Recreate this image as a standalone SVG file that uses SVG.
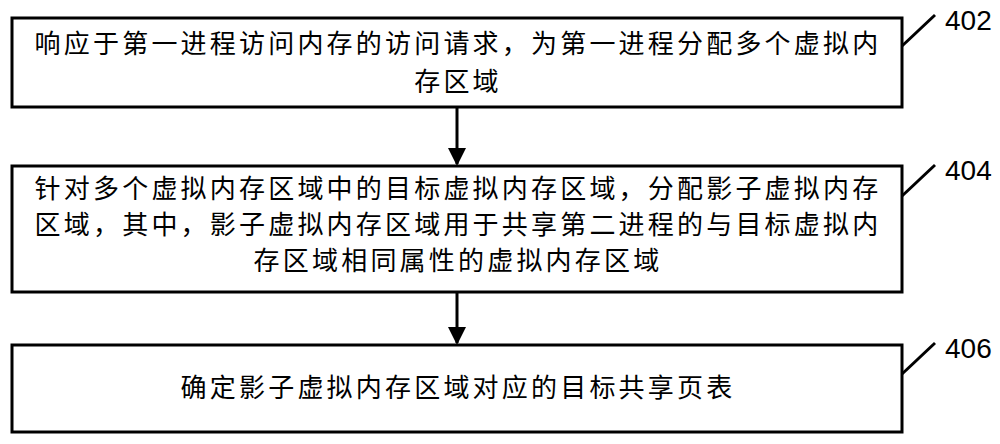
<svg xmlns="http://www.w3.org/2000/svg" width="1000" height="444" viewBox="0 0 1000 444">
<style>
.b{fill:#fff;stroke:#000;stroke-width:3}
.t{font-family:"Noto Sans CJK SC",sans-serif;font-size:26px;letter-spacing:3.2px;text-anchor:middle;fill:#000}
.n{font-family:"Liberation Sans",sans-serif;font-size:28px;fill:#000}
.l{stroke:#000;stroke-width:3;fill:none}
</style>
<defs><marker id="a" markerUnits="userSpaceOnUse" markerWidth="18" markerHeight="22" refX="16" refY="9" orient="auto"><path d="M0,0L18,9L0,18z" fill="#000"/></marker></defs>
<rect width="1000" height="444" fill="#fff"/>
<g id="n402"><rect class="b" x="12" y="18" width="890" height="89"/>
<text class="t" x="458" y="53">响应于第一进程访问内存的访问请求，为第一进程分配多个虚拟内</text>
<text class="t" x="458" y="91">存区域</text>
<path class="l" d="M902,46L935,15"/><text class="n" x="945" y="30">402</text></g>
<g id="n404"><rect class="b" x="12" y="166" width="890" height="126"/>
<text class="t" x="458" y="198">针对多个虚拟内存区域中的目标虚拟内存区域，分配影子虚拟内存</text>
<text class="t" x="458" y="234">区域，其中，影子虚拟内存区域用于共享第二进程的与目标虚拟内</text>
<text class="t" x="458" y="270">存区域相同属性的虚拟内存区域</text>
<path class="l" d="M902,196L935,165"/><text class="n" x="945" y="180">404</text></g>
<g id="n406"><rect class="b" x="12" y="345" width="890" height="87"/>
<text class="t" x="458" y="397">确定影子虚拟内存区域对应的目标共享页表</text>
<path class="l" d="M902,374L935,343"/><text class="n" x="945" y="358">406</text></g>
<g id="c"><path class="l" d="M457,107V164" marker-end="url(#a)"/>
<path class="l" d="M457,292V343" marker-end="url(#a)"/></g>
</svg>
